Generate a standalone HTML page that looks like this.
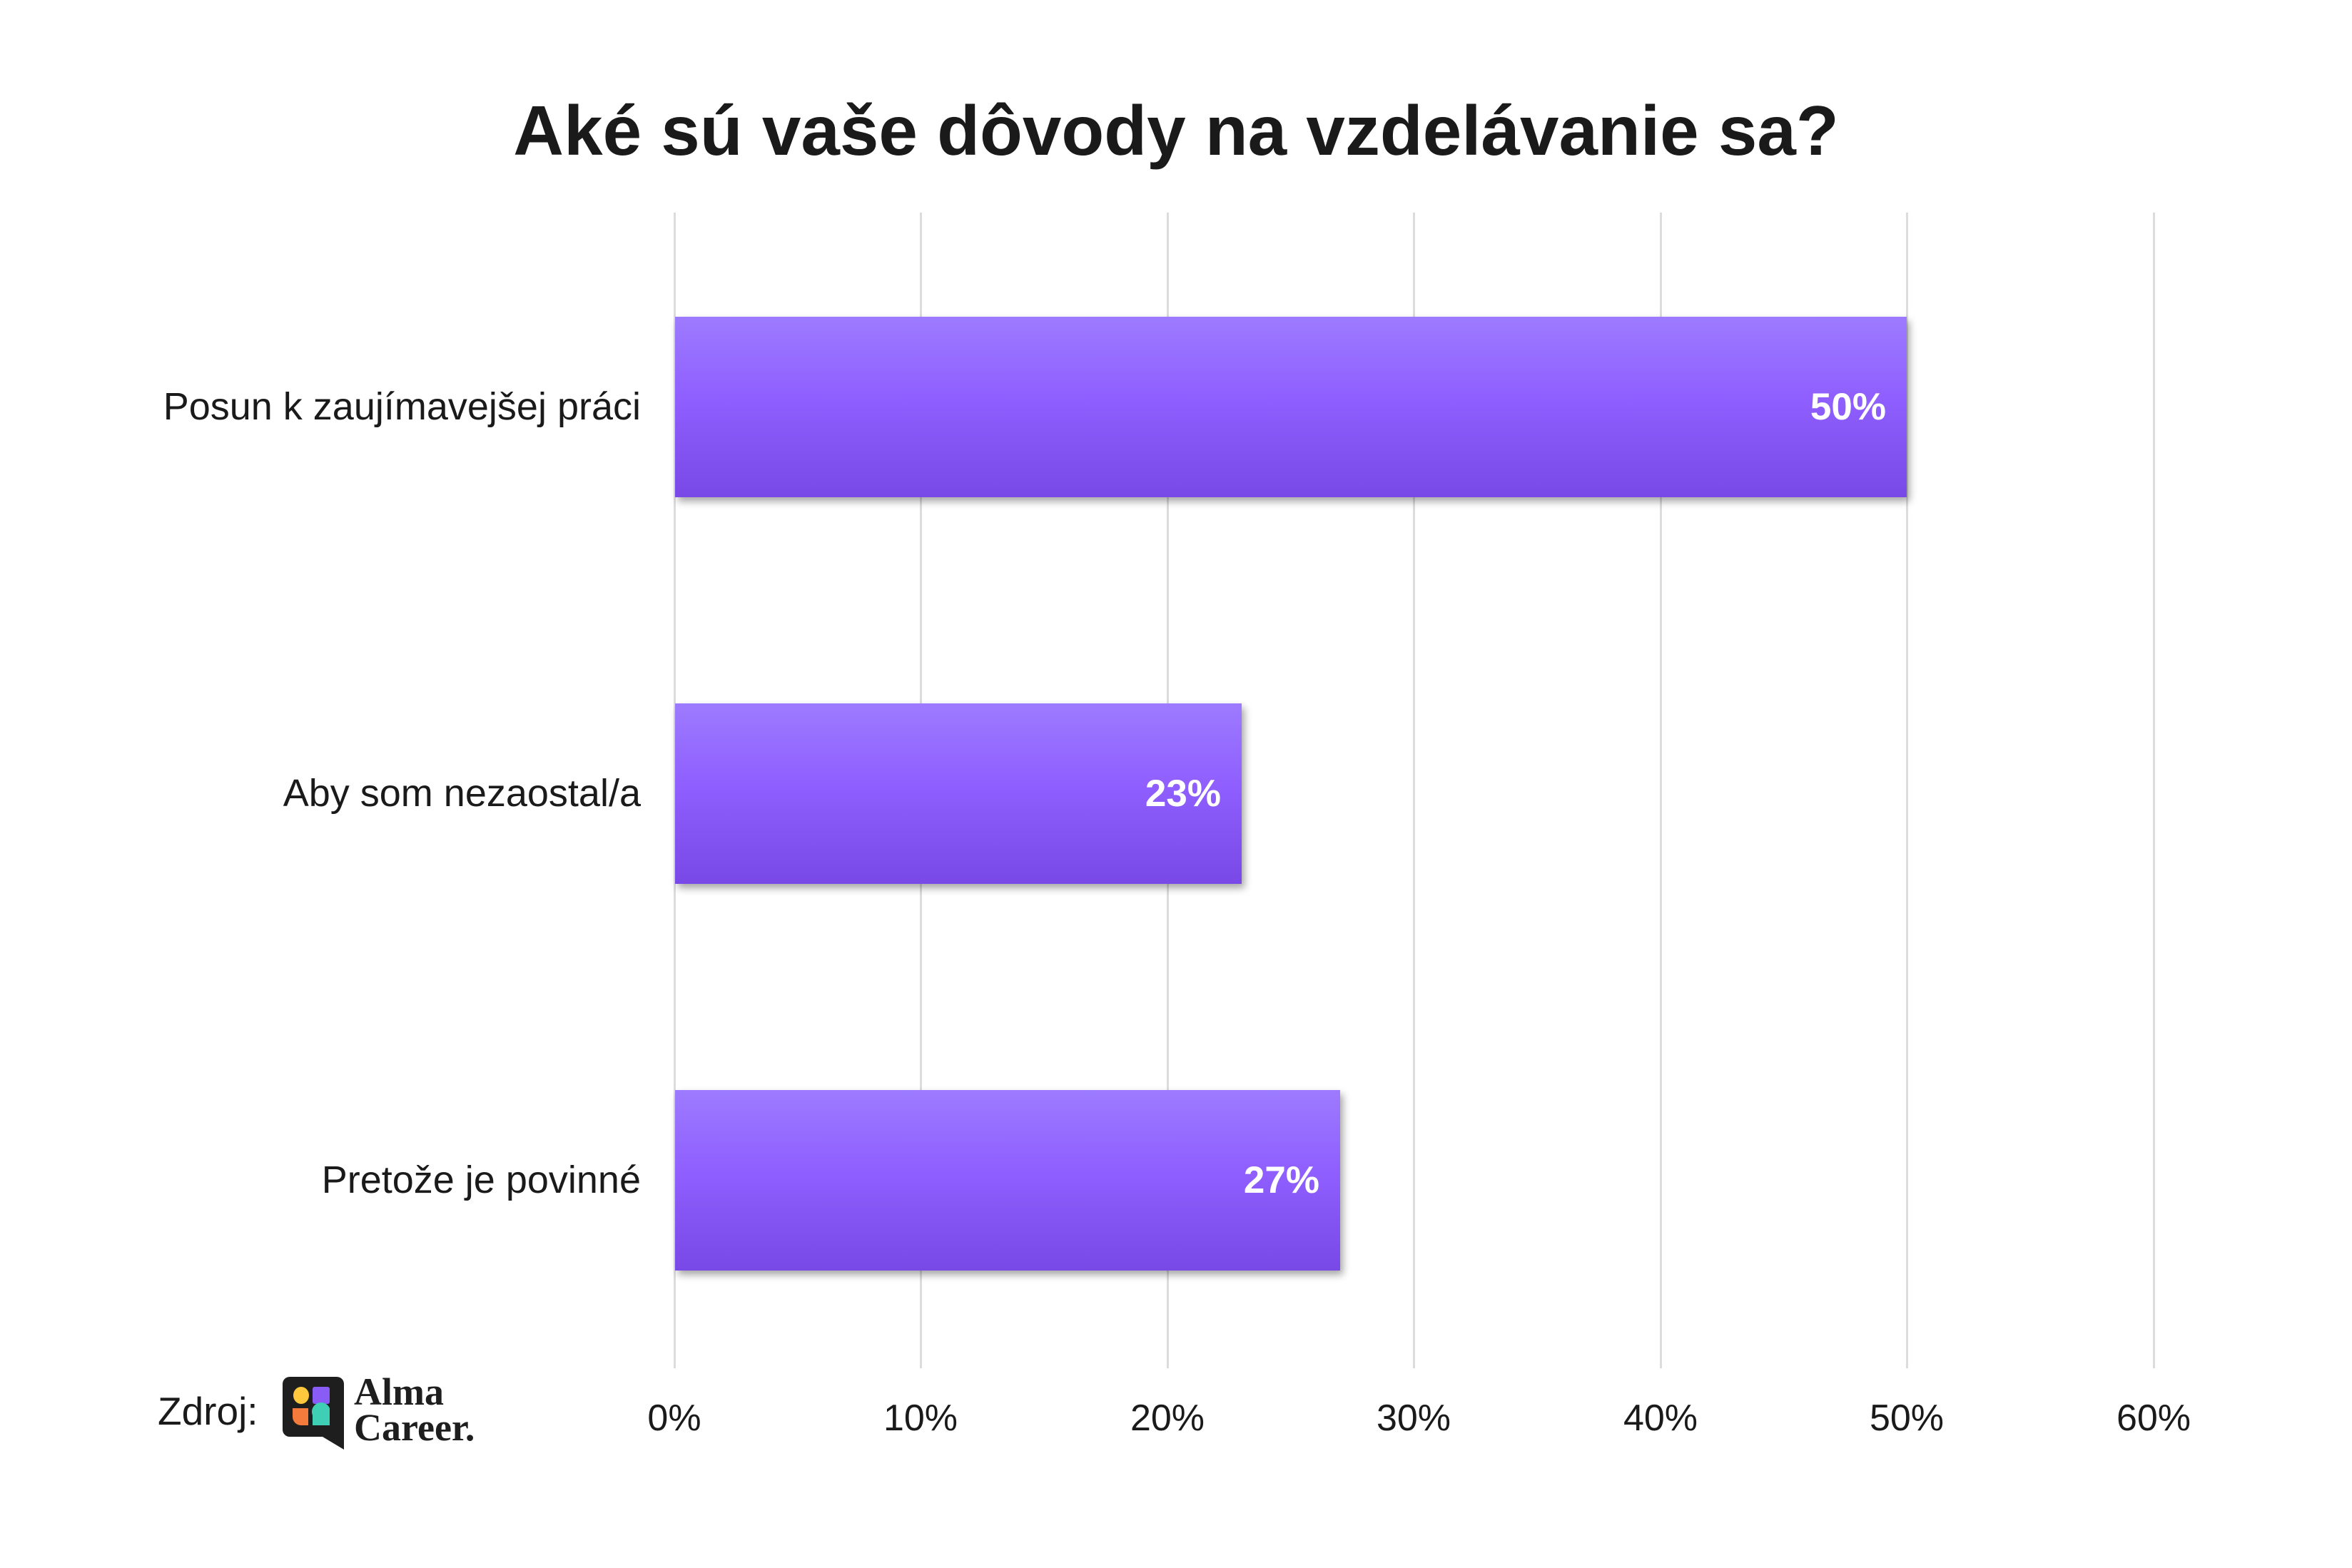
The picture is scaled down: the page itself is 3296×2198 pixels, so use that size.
<!DOCTYPE html>
<html><head><meta charset="utf-8"><style>
body{margin:0;width:3296px;height:2198px;background:#fff;position:relative;overflow:hidden;font-family:"Liberation Sans",sans-serif;color:#1a1a1a}
.t{position:absolute;left:0;width:3296px;text-align:center;top:127px;font-size:98px;font-weight:bold}
.g{position:absolute;top:298px;height:1620px;width:3px;background:#dcdcdc}
.bar{position:absolute;left:946px;height:253px;background:linear-gradient(#9d7bff,#8f5fff 45%,#7849e6);box-shadow:4px 6px 10px rgba(0,0,0,0.35)}
.v{position:absolute;right:29px;top:0;line-height:253px;color:#fff;font-weight:bold;font-size:53px}
.c{position:absolute;right:2398px;font-size:54px;line-height:64px}
.x{position:absolute;top:1958px;font-size:52px;width:200px;margin-left:-100px;text-align:center}
</style></head><body>
<div class="t">Aké sú vaše dôvody na vzdelávanie sa?</div>
<div class="g" style="left:944px"></div>
<div class="g" style="left:1289px"></div>
<div class="g" style="left:1635px"></div>
<div class="g" style="left:1980px"></div>
<div class="g" style="left:2326px"></div>
<div class="g" style="left:2671px"></div>
<div class="g" style="left:3017px"></div>
<div class="bar" style="top:444px;width:1726px"><span class="v">50%</span></div>
<div class="bar" style="top:986px;width:794px"><span class="v">23%</span></div>
<div class="bar" style="top:1528px;width:932px"><span class="v">27%</span></div>
<div class="c" style="top:538px">Posun k zaujímavejšej práci</div>
<div class="c" style="top:1080px">Aby som nezaostal/a</div>
<div class="c" style="top:1622px">Pretože je povinné</div>
<div class="x" style="left:945px">0%</div>
<div class="x" style="left:1290px">10%</div>
<div class="x" style="left:1636px">20%</div>
<div class="x" style="left:1981px">30%</div>
<div class="x" style="left:2327px">40%</div>
<div class="x" style="left:2672px">50%</div>
<div class="x" style="left:3018px">60%</div>
<div style="position:absolute;left:221px;top:1946px;font-size:55px">Zdroj:</div>
<svg style="position:absolute;left:394px;top:1928px" width="90" height="106" viewBox="0 0 90 106">
<path d="M12 2h66a10 10 0 0 1 10 10v92l-30-18H12A10 10 0 0 1 2 76V12A10 10 0 0 1 12 2z" fill="#1e1e1e"/>
<ellipse cx="28" cy="28" rx="11" ry="12" fill="#ffc83d"/>
<rect x="44" y="16" width="24" height="24" rx="3" fill="#8a5cf6"/>
<path d="M16 46h22v24H28a12 12 0 0 1-12-12z" fill="#f47b3b"/>
<path d="M44 56a12 12 0 0 1 24-10v24H44z" fill="#3fcfb4"/>
</svg>
<div style="position:absolute;left:496px;top:1926px;font-family:'Liberation Serif',serif;font-weight:bold;font-size:54px;line-height:50px;color:#1e1e1e">Alma<br>Career.</div>
</body></html>
